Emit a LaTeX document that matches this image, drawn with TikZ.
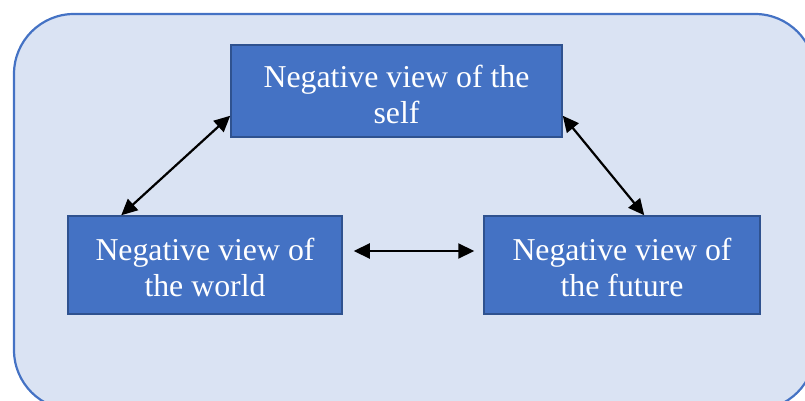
\documentclass[tikz,border=0pt]{standalone}
\usepackage{fontspec}
\setmainfont{Liberation Serif}
\usetikzlibrary{arrows.meta}
\definecolor{panelfill}{HTML}{DAE3F3}
\definecolor{accent}{HTML}{4472C4}
\definecolor{boxedge}{HTML}{2F528F}
\tikzset{
  viewbox/.style={draw=boxedge, line width=1.5pt, fill=accent, inner sep=0pt},
  viewtext/.style={text=white, align=center, inner sep=0pt,
    font=\fontsize{31.8}{36}\selectfont},
  link/.style={line width=2.2pt, black,
    {Triangle[length=16pt,width=15pt]}-{Triangle[length=16pt,width=15pt]}}
}
\begin{document}
\begin{tikzpicture}[x=1pt, y=-1pt]
  \useasboundingbox (0,0) rectangle (805,401);
  \clip (0,0) rectangle (805,401);
  % backdrop panel
  \draw[fill=panelfill, draw=accent, line width=2.2pt, rounded corners=60pt]
    (14,14) rectangle (815,410);
  % the three views
  \node[viewbox, minimum width=331pt, minimum height=92pt] (self) at (396.5,91) {};
  \node[viewbox, minimum width=274pt, minimum height=98pt] (wld) at (205,265) {};
  \node[viewbox, minimum width=276pt, minimum height=98pt] (fut) at (622,265) {};
  \node[viewtext] (selftext) at ([yshift=-3.5pt]self.center) {Negative view of the\\self};
  \node[viewtext] (wldtext) at ([yshift=-2pt]wld.center) {Negative view of\\the world};
  \node[viewtext] (futtext) at ([yshift=-2pt]fut.center) {Negative view of\\the future};
  % connections
  \draw[link] ([xshift=54pt]wld.north west) -- ([yshift=22pt]self.south west);
  \draw[link] ([yshift=22pt]self.south east) -- ([xshift=161pt]fut.north west);
  \draw[link] ([xshift=11pt,yshift=14pt]wld.east) -- ([xshift=-9pt,yshift=14pt]fut.west);
\end{tikzpicture}
\end{document}
